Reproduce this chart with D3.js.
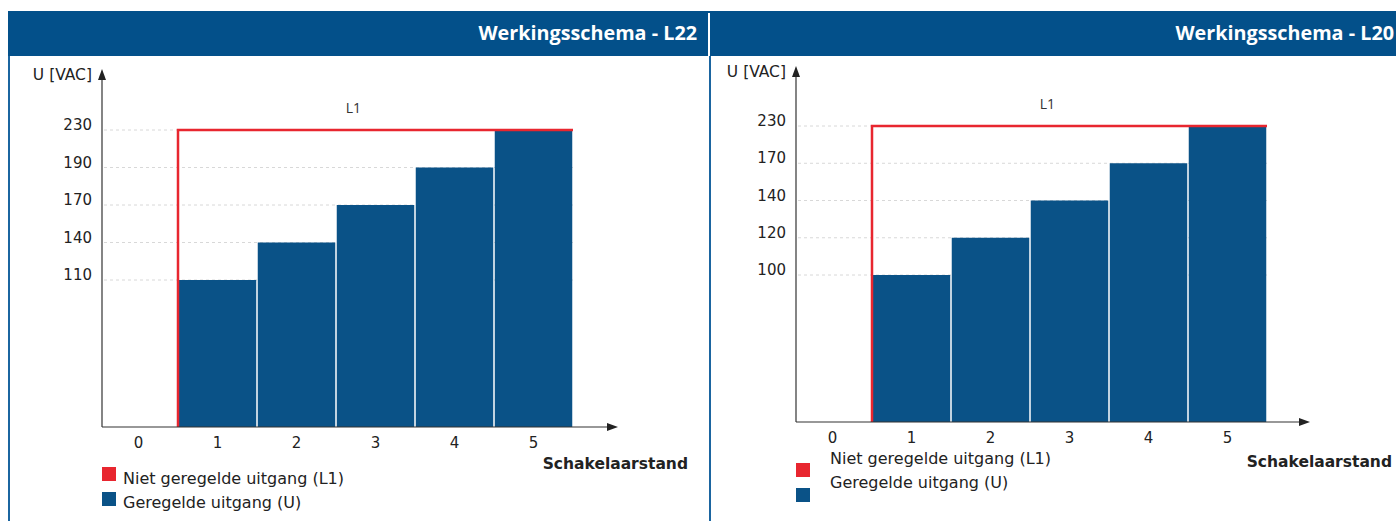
<!DOCTYPE html>
<html lang="nl">
<head>
<meta charset="utf-8">
<script src="https://d3js.org/d3.v7.min.js"></script>
<style>
  * { margin: 0; padding: 0; }
  body { width: 1396px; height: 521px; background: #fff; overflow: hidden; }
  .tick-label, .axis-title, .legend-text { font-family: "DejaVu Sans", Verdana, sans-serif; fill: #222; }
  .head-title { font-family: "Open Sans", sans-serif; font-weight: 700; fill: #fff; }
</style>
</head>
<body>
<script>
// schakelaarstanden (x-as)
const positions = [0, 1, 2, 3, 4, 5];

// L22
const l22Title = 'Werkingsschema - L22';
const l22Ticks = [110, 140, 170, 190, 230];
const l22Values = [null, 110, 140, 170, 190, 230];
const l22L1 = 230;

// L20
const l20Title = 'Werkingsschema - L20';
const l20Ticks = [100, 120, 140, 170, 230];
const l20Values = [null, 100, 120, 140, 170, 230];
const l20L1 = 230;

const legendLabels = ['Niet geregelde uitgang (L1)', 'Geregelde uitgang (U)'];
const yTitle = 'U [VAC]';
const xTitle = 'Schakelaarstand';

const blue = '#0a5287';
const headBlue = '#03508a';
const red = '#e8262f';

const svg = d3.select('body').append('svg')
  .attr('width', 1396)
  .attr('height', 521);

// header band
svg.append('rect')
  .attr('x', 8).attr('y', 11)
  .attr('width', 1388).attr('height', 45)
  .attr('fill', headBlue);

// panel borders
svg.append('rect').attr('x', 8).attr('y', 56).attr('width', 2).attr('height', 465).attr('fill', '#1b65a0');
svg.append('rect').attr('x', 709).attr('y', 56).attr('width', 2).attr('height', 465).attr('fill', '#1b65a0');
svg.append('rect').attr('x', 708).attr('y', 13).attr('width', 2).attr('height', 43).attr('fill', '#fff');

function drawPanel(cfg) {
  const g = svg.append('g');

  g.append('text')
    .attr('class', 'head-title')
    .attr('x', cfg.titleX).attr('y', 40)
    .attr('text-anchor', 'end')
    .attr('font-size', 19.8)
    .text(cfg.title);

  const x = d3.scaleBand()
    .domain(positions)
    .range([cfg.axisX - 3, cfg.axisX + 471])
    .padding(0);

  // gelijke afstand tussen de niveaus, vanaf de 0-lijn
  const n = cfg.ticks.length;
  const y = d3.scaleLinear()
    .domain([0].concat(cfg.ticks))
    .range([cfg.baseY].concat(cfg.ticks.map((t, i) => cfg.topY + (n - 1 - i) * cfg.step)));

  const right = x(5) + x.bandwidth();

  // gridlines
  g.selectAll('.grid')
    .data(cfg.ticks)
    .enter().append('line')
    .attr('x1', cfg.axisX + 2).attr('x2', right)
    .attr('y1', d => y(d)).attr('y2', d => y(d))
    .attr('stroke', '#d8d8d8')
    .attr('stroke-dasharray', '3,3');

  // y tick labels
  g.selectAll('.ytick')
    .data(cfg.ticks)
    .enter().append('text')
    .attr('class', 'tick-label')
    .attr('x', cfg.axisX - 10)
    .attr('y', d => y(d) + 0)
    .attr('text-anchor', 'end')
    .attr('font-size', 15)
    .text(d => d);

  // bars
  g.selectAll('.bar')
    .data(positions.filter(p => cfg.values[p] != null))
    .enter().append('rect')
    .attr('x', p => x(p) + 0.75)
    .attr('y', p => y(cfg.values[p]))
    .attr('width', x.bandwidth() - 1.5)
    .attr('height', p => y(0) - y(cfg.values[p]))
    .attr('fill', blue);

  // L1 lijn
  g.append('path')
    .attr('d', `M${x(1)},${y(0)}V${y(cfg.l1)}H${right}`)
    .attr('fill', 'none')
    .attr('stroke', red)
    .attr('stroke-width', 2.5);

  g.append('text')
    .attr('x', x(3) + x.bandwidth() * 0.22)
    .attr('y', y(cfg.l1) - 17)
    .attr('text-anchor', 'middle')
    .attr('font-family', 'Open Sans, sans-serif')
    .attr('font-size', 14)
    .attr('fill', '#333')
    .text('L1');

  // assen
  g.append('line')
    .attr('x1', cfg.axisX).attr('x2', cfg.axisX)
    .attr('y1', y(0)).attr('y2', cfg.arrowTop + 8)
    .attr('stroke', '#333').attr('stroke-width', 1.2);
  g.append('path')
    .attr('d', `M${cfg.axisX},${cfg.arrowTop}l-4,11h8z`)
    .attr('fill', '#222');
  g.append('line')
    .attr('x1', cfg.axisX).attr('x2', cfg.arrowRight - 8)
    .attr('y1', y(0)).attr('y2', y(0))
    .attr('stroke', '#333').attr('stroke-width', 1.2);
  g.append('path')
    .attr('d', `M${cfg.arrowRight},${y(0)}l-11,-4v8z`)
    .attr('fill', '#222');

  g.append('text')
    .attr('class', 'axis-title')
    .attr('x', cfg.axisX - 10).attr('y', cfg.arrowTop + 11)
    .attr('text-anchor', 'end')
    .attr('font-size', 15.5)
    .text(yTitle);

  // x tick labels
  g.selectAll('.xtick')
    .data(positions)
    .enter().append('text')
    .attr('class', 'tick-label')
    .attr('x', p => x(p) + x.bandwidth() / 2)
    .attr('y', y(0) + 21)
    .attr('text-anchor', 'middle')
    .attr('font-size', 15)
    .text(p => p);

  g.append('text')
    .attr('class', 'axis-title')
    .attr('x', cfg.xTitleX).attr('y', cfg.xTitleY)
    .attr('text-anchor', 'end')
    .attr('font-size', 15.5)
    .attr('font-weight', 'bold')
    .text(xTitle);

  // legenda
  const leg = g.selectAll('.leg')
    .data(legendLabels)
    .enter().append('g');
  leg.append('rect')
    .attr('x', cfg.axisX)
    .attr('y', (d, i) => cfg.legSquareY + i * 25)
    .attr('width', 14).attr('height', 14)
    .attr('fill', (d, i) => i === 0 ? red : blue);
  leg.append('text')
    .attr('class', 'legend-text')
    .attr('x', cfg.legTextX)
    .attr('y', (d, i) => cfg.legTextY + i * 24)
    .attr('font-size', 16)
    .text(d => d);
}

drawPanel({
  title: l22Title, titleX: 697, ticks: l22Ticks, values: l22Values, l1: l22L1,
  axisX: 102, baseY: 427, topY: 130, step: 37.5, arrowTop: 69, arrowRight: 618,
  xTitleX: 688, xTitleY: 469, legSquareY: 467, legTextX: 123, legTextY: 484
});

drawPanel({
  title: l20Title, titleX: 1394, ticks: l20Ticks, values: l20Values, l1: l20L1,
  axisX: 796, baseY: 422, topY: 126, step: 37.25, arrowTop: 66, arrowRight: 1310,
  xTitleX: 1392, xTitleY: 467, legSquareY: 463, legTextX: 830, legTextY: 464
});
</script>
</body>
</html>
